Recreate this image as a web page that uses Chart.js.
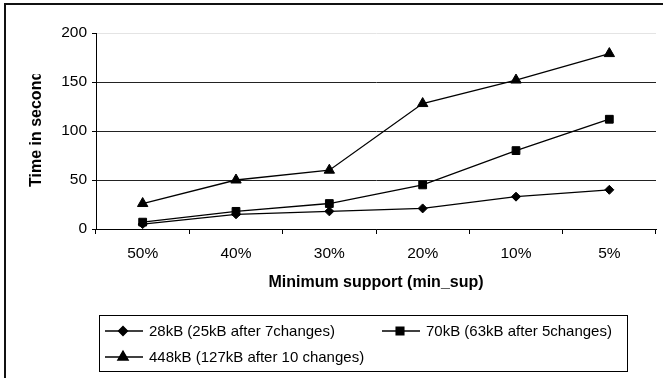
<!DOCTYPE html>
<html>
<head>
<meta charset="utf-8">
<script src="https://cdn.jsdelivr.net/npm/chart.js@4"></script>
<style>
  html, body { margin: 0; padding: 0; background: #fff; }
  canvas { display: block; }
</style>
</head>
<body>
<canvas id="supportChart" width="663" height="378"></canvas>
<script>
const categories = ["50%", "40%", "30%", "20%", "10%", "5%"];
const yTicks = [0, 50, 100, 150, 200];
const series28kB = [5, 15, 18, 21, 33, 40];
const series70kB = [7, 18, 26, 45, 80, 112];
const series448kB = [26, 50, 60, 128, 152, 179];
const seriesLabels = [
  "28kB (25kB after 7changes)",
  "70kB (63kB after 5changes)",
  "448kB (127kB after 10 changes)",
];
const xTitle = "Minimum support (min_sup)";
const yTitle = "Time in seconds";

const FONT = "'Liberation Sans', Arial, sans-serif";

// frame, clipped y title and boxed legend, drawn like the original sheet
const decorPlugin = {
  id: "decor",
  afterDraw(chart) {
    const ctx = chart.ctx;
    ctx.save();
    ctx.fillStyle = "#111";
    ctx.fillRect(4, 3, 659, 2);
    ctx.fillRect(4, 3, 2, 375);

    // y title, cut off at the top like in the reference
    ctx.save();
    ctx.beginPath();
    ctx.rect(0, 74, 90, 300);
    ctx.clip();
    ctx.translate(41, 187);
    ctx.rotate(-Math.PI / 2);
    ctx.font = "bold 16px " + FONT;
    ctx.fillStyle = "#000";
    ctx.textAlign = "left";
    ctx.textBaseline = "alphabetic";
    ctx.fillText(yTitle, 0, 0);
    ctx.restore();

    // legend
    ctx.strokeStyle = "#000";
    ctx.lineWidth = 1;
    ctx.strokeRect(99.5, 315.5, 528, 56);
    const slots = [
      { x: 105, y: 331 },
      { x: 382, y: 331 },
      { x: 105, y: 357 },
    ];
    ctx.font = "15px " + FONT;
    ctx.textBaseline = "middle";
    ctx.textAlign = "left";
    chart.data.datasets.forEach((ds, i) => {
      const s = slots[i];
      ctx.beginPath();
      ctx.moveTo(s.x, s.y);
      ctx.lineTo(s.x + 38, s.y);
      ctx.lineWidth = 1.3;
      ctx.strokeStyle = "#000";
      ctx.stroke();
      Chart.helpers.drawPoint(ctx, {
        pointStyle: ds.pointStyle,
        radius: ds.pointRadius,
        rotation: 0,
        borderWidth: 1,
      }, s.x + 18, s.y);
      ctx.fillStyle = "#000";
      ctx.fill();
      ctx.fillText(ds.label, s.x + 44, s.y + 1);
    });
    ctx.restore();
  },
};

const makeSet = (label, data, style, radius) => ({
  label: label,
  data: data,
  borderColor: "#000",
  backgroundColor: "#000",
  borderWidth: 1.3,
  pointStyle: style,
  pointRadius: radius,
  pointBorderWidth: 1,
  pointBackgroundColor: "#000",
  pointBorderColor: "#000",
  tension: 0,
});

const chart = new Chart(document.getElementById("supportChart"), {
  type: "line",
  data: {
    labels: categories,
    datasets: [
      makeSet(seriesLabels[0], series28kB, "rectRot", 4.5),
      makeSet(seriesLabels[1], series70kB, "rect", 5.5),
      makeSet(seriesLabels[2], series448kB, "triangle", 6),
    ],
  },
  options: {
    responsive: false,
    animation: false,
    layout: { padding: { top: 33, right: 4, left: 0, bottom: 0 } },
    plugins: {
      legend: { display: false },
      tooltip: { enabled: false },
    },
    scales: {
      x: {
        offset: true,
        afterFit: (scale) => { scale.height = 149; },
        grid: {
          offset: true,
          drawOnChartArea: false,
          drawTicks: true,
          tickLength: 5,
          color: "#000",
        },
        border: { color: "#000", width: 1 },
        ticks: {
          color: "#000",
          padding: 10,
          maxRotation: 0,
          font: { family: FONT, size: 15.5 },
        },
        title: {
          display: true,
          text: xTitle,
          color: "#000",
          font: { family: FONT, size: 16, weight: "bold" },
          padding: { top: 0, bottom: 86 },
        },
      },
      y: {
        min: 0,
        max: 200,
        afterFit: (scale) => { scale.width = 96; },
        afterBuildTicks: (scale) => {
          scale.ticks = yTicks.map((v) => ({ value: v }));
        },
        grid: {
          color: (c) => (c.tick && c.tick.value === 200 ? "#e4e4e4" : "#222"),
          tickColor: "#000",
          tickLength: 4,
          lineWidth: 1,
        },
        border: { color: "#000", width: 1 },
        ticks: {
          color: "#000",
          padding: 5,
          font: { family: FONT, size: 15.5 },
        },
      },
    },
  },
  plugins: [decorPlugin],
});
</script>
</body>
</html>
